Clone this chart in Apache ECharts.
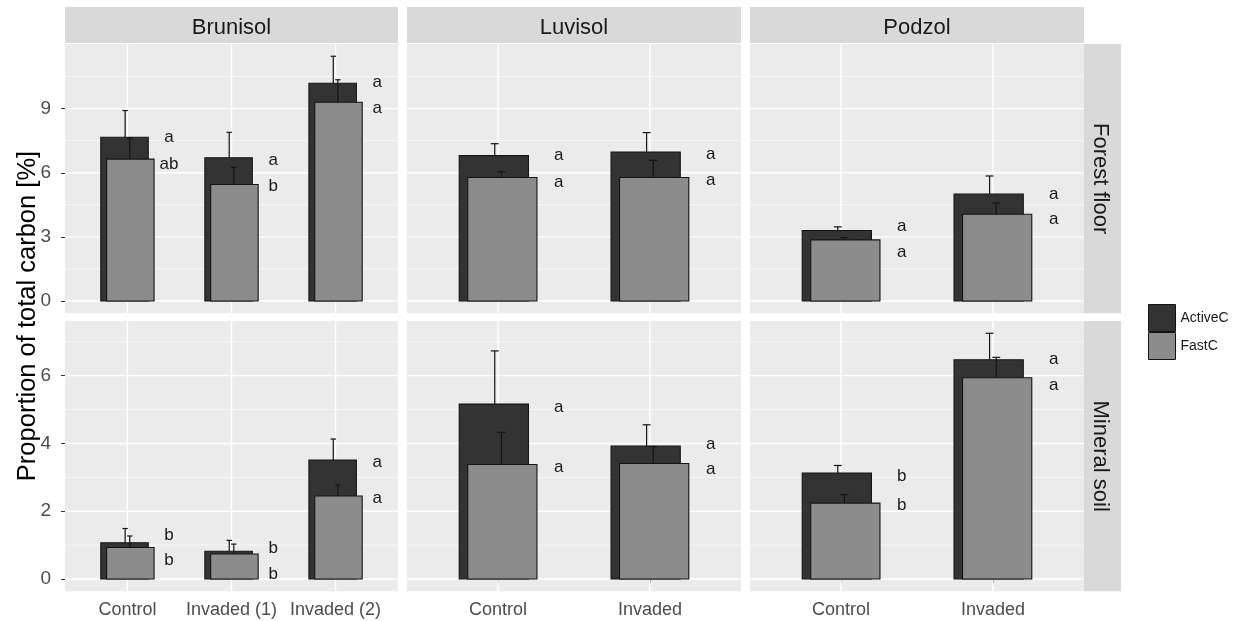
<!DOCTYPE html>
<html>
<head>
<meta charset="utf-8">
<script src="https://cdn.jsdelivr.net/npm/echarts@6/dist/echarts.min.js"></script>
<style>
  html, body { margin: 0; padding: 0; background: #ffffff; }
  #chart { width: 1240px; height: 621px; }
</style>
</head>
<body>
<div id="chart"></div>
<script>
// Facets
const soils = ['Brunisol', 'Luvisol', 'Podzol'];
const layers = ['Forest floor', 'Mineral soil'];
const treatments = [
  ['Control', 'Invaded (1)', 'Invaded (2)'],
  ['Control', 'Invaded'],
  ['Control', 'Invaded']
];

// Forest floor: means and upper error limits (mean + SE), per soil
const forestActive      = [[7.66, 6.70, 10.19], [6.80, 6.97], [3.30, 5.00]];
const forestActiveUpper = [[8.91, 7.89, 11.45], [7.36, 7.88], [3.47, 5.85]];
const forestFast        = [[6.64, 5.45, 9.30], [5.78, 5.78], [2.86, 4.06]];
const forestFastUpper   = [[7.61, 6.25, 10.35], [6.05, 6.58], [2.97, 4.59]];

// Mineral soil
const mineralActive      = [[1.07, 0.82, 3.51], [5.16, 3.92], [3.13, 6.47]];
const mineralActiveUpper = [[1.49, 1.14, 4.13], [6.73, 4.55], [3.35, 7.25]];
const mineralFast        = [[0.93, 0.74, 2.45], [3.38, 3.41], [2.24, 5.94]];
const mineralFastUpper   = [[1.27, 1.03, 2.77], [4.33, 3.91], [2.49, 6.54]];

// Significance letters and the heights they sit at
const forestActiveLetters  = [['a', 'a', 'a'], ['a', 'a'], ['a', 'a']];
const forestFastLetters    = [['ab', 'b', 'a'], ['a', 'a'], ['a', 'a']];
const mineralActiveLetters = [['b', 'b', 'a'], ['a', 'a'], ['b', 'a']];
const mineralFastLetters   = [['b', 'b', 'a'], ['a', 'a'], ['b', 'a']];
const forestActiveLetterY  = [[7.64, 6.58, 10.25], [6.80, 6.84], [3.48, 5.00]];
const forestFastLetterY    = [[6.38, 5.36, 9.00], [5.55, 5.67], [2.28, 3.80]];
const mineralActiveLetterY = [[1.29, 0.92, 3.43], [5.08, 3.98], [3.04, 6.49]];
const mineralFastLetterY   = [[0.55, 0.13, 2.37], [3.30, 3.23], [2.17, 5.72]];

// Axis breaks per row
const forestBreaks = [0, 3, 6, 9];
const forestMinorBreaks = [1.5, 4.5, 7.5, 10.5];
const mineralBreaks = [0, 2, 4, 6];
const mineralMinorBreaks = [1, 3, 5, 7];

// ---- drawing ----
const FONT = '"Liberation Sans", Arial, sans-serif';
const ACTIVE_FILL = '#333333';
const FAST_FILL = '#8C8C8C';
const OUTLINE = '#141414';

const colLeft = [65, 407, 750];
const colWidth = [333, 334, 334];
const rowTop = [44, 321];
const rowHeight = [269.3, 270.3];

const BAR_HALF = 0.228;
const BAR_SHIFT = 0.028;
const ERR_SHIFT = 0.022;
const CAP_HALF = 0.026;
const LETTER_SHIFT = 0.4;

const rows = [
  { active: forestActive, activeUp: forestActiveUpper, fast: forestFast, fastUp: forestFastUpper,
    aLet: forestActiveLetters, fLet: forestFastLetters, aLetY: forestActiveLetterY, fLetY: forestFastLetterY,
    breaks: forestBreaks, minor: forestMinorBreaks },
  { active: mineralActive, activeUp: mineralActiveUpper, fast: mineralFast, fastUp: mineralFastUpper,
    aLet: mineralActiveLetters, fLet: mineralFastLetters, aLetY: mineralActiveLetterY, fLetY: mineralFastLetterY,
    breaks: mineralBreaks, minor: mineralMinorBreaks }
];

const grids = [], xAxes = [], yAxes = [], series = [];

function barSeries(idx, name, values, fill, shift) {
  return {
    type: 'custom', name, xAxisIndex: idx, yAxisIndex: idx, z: 3, silent: true,
    itemStyle: { color: fill },
    data: values.map((v, i) => [i + 1, v]),
    renderItem(params, api) {
      const x = api.value(0), y = api.value(1);
      const a = api.coord([x + shift - BAR_HALF, 0]);
      const b = api.coord([x + shift + BAR_HALF, y]);
      return {
        type: 'rect',
        shape: { x: a[0], y: b[1], width: b[0] - a[0], height: a[1] - b[1] },
        style: { fill, stroke: OUTLINE, lineWidth: 1.1 }
      };
    }
  };
}

function errorSeries(idx, means, uppers, shift) {
  return {
    type: 'custom', xAxisIndex: idx, yAxisIndex: idx, z: 4, silent: true,
    data: means.map((m, i) => [i + 1, m, uppers[i]]),
    renderItem(params, api) {
      const x = api.value(0) + shift;
      const lo = api.coord([x, api.value(1)]);
      const hi = api.coord([x, api.value(2)]);
      const cl = api.coord([x - CAP_HALF, api.value(2)]);
      const cr = api.coord([x + CAP_HALF, api.value(2)]);
      const st = { stroke: OUTLINE, lineWidth: 1.2 };
      return {
        type: 'group',
        children: [
          { type: 'line', shape: { x1: lo[0], y1: lo[1], x2: hi[0], y2: hi[1] }, style: st },
          { type: 'line', shape: { x1: cl[0], y1: cl[1], x2: cr[0], y2: cr[1] }, style: st }
        ]
      };
    }
  };
}

function letterSeries(idx, letters, ys) {
  return {
    type: 'custom', xAxisIndex: idx, yAxisIndex: idx, z: 4, silent: true,
    data: ys.map((y, i) => [i + 1, y]),
    renderItem(params, api) {
      const p = api.coord([api.value(0) + LETTER_SHIFT, api.value(1)]);
      return {
        type: 'text', x: p[0], y: p[1],
        style: { text: letters[params.dataIndex], fill: '#1A1A1A', font: '17px ' + FONT,
                 align: 'center', verticalAlign: 'middle' }
      };
    }
  };
}

function gridLineSeries(idx, hVals, hWidth, vVals, vWidth) {
  const data = hVals.map(v => [v, 0]).concat(vVals.map(v => [v, 1]));
  return {
    type: 'custom', xAxisIndex: idx, yAxisIndex: idx, z: 1, silent: true,
    data,
    renderItem(params, api) {
      const cs = params.coordSys;
      const v = api.value(0), vertical = api.value(1) === 1;
      if (vertical) {
        const x = api.coord([v, 0])[0];
        return { type: 'line', shape: { x1: x, y1: cs.y, x2: x, y2: cs.y + cs.height },
                 style: { stroke: '#FFFFFF', lineWidth: vWidth } };
      }
      const y = api.coord([1, v])[1];
      return { type: 'line', shape: { x1: cs.x, y1: y, x2: cs.x + cs.width, y2: y },
               style: { stroke: '#FFFFFF', lineWidth: hWidth } };
    }
  };
}

rows.forEach((row, r) => {
  // y limits follow the data with 5% expansion on both sides
  const top = Math.max(...row.activeUp.flat(), ...row.fastUp.flat());
  const yMin = -0.05 * top, yMax = 1.05 * top;
  soils.forEach((soil, c) => {
    const idx = r * 3 + c;
    const n = treatments[c].length;
    const cats = treatments[c];
    const ticks = cats.map((_, i) => i + 1);
    grids.push({ left: colLeft[c], top: rowTop[r], width: colWidth[c], height: rowHeight[r],
                 show: true, backgroundColor: '#EBEBEB', borderWidth: 0, containLabel: false });
    xAxes.push({
      type: 'value', gridIndex: idx, min: 0.4, max: n + 0.6,
      axisLine: { show: false },
      splitLine: { show: false },
      axisTick: { show: r === 1, customValues: ticks, length: 4, lineStyle: { color: '#333333', width: 1 } },
      axisLabel: { show: r === 1, customValues: ticks, margin: 10, color: '#4D4D4D', fontSize: 18,
                   fontFamily: FONT, formatter: v => cats[Math.round(v) - 1] || '' }
    });
    yAxes.push({
      type: 'value', gridIndex: idx, min: yMin, max: yMax,
      axisLine: { show: false },
      splitLine: { show: false },
      axisTick: { show: c === 0, customValues: row.breaks, length: 4, lineStyle: { color: '#333333', width: 1 } },
      axisLabel: { show: c === 0, customValues: row.breaks, margin: 14, color: '#4D4D4D', fontSize: 19,
                   fontFamily: FONT }
    });
    series.push(gridLineSeries(idx, row.minor, 0.7, [], 0));
    series.push(gridLineSeries(idx, row.breaks, 1.4, ticks, 1.4));
    series.push(barSeries(idx, 'ActiveC', row.active[c], ACTIVE_FILL, -BAR_SHIFT));
    series.push(barSeries(idx, 'FastC', row.fast[c], FAST_FILL, BAR_SHIFT));
    series.push(errorSeries(idx, row.active[c], row.activeUp[c], -ERR_SHIFT));
    series.push(errorSeries(idx, row.fast[c], row.fastUp[c], ERR_SHIFT));
    series.push(letterSeries(idx, row.aLet[c], row.aLetY[c]));
    series.push(letterSeries(idx, row.fLet[c], row.fLetY[c]));
  });
});

// Facet strips and the y-axis title
const graphic = [];
soils.forEach((soil, c) => {
  graphic.push({ type: 'rect', shape: { x: colLeft[c], y: 7, width: colWidth[c], height: 36 },
                 style: { fill: '#D9D9D9' }, silent: true });
  graphic.push({ type: 'text', x: colLeft[c] + colWidth[c] / 2, y: 28,
                 style: { text: soil, font: '22px ' + FONT, fill: '#1A1A1A', align: 'center', verticalAlign: 'middle' },
                 silent: true });
});
layers.forEach((layer, r) => {
  graphic.push({ type: 'rect', shape: { x: 1084, y: rowTop[r], width: 37, height: rowHeight[r] },
                 style: { fill: '#D9D9D9' }, silent: true });
  graphic.push({ type: 'text', x: 1100, y: rowTop[r] + rowHeight[r] / 2, rotation: -Math.PI / 2,
                 style: { text: layer, font: '22px ' + FONT, fill: '#1A1A1A', align: 'center', verticalAlign: 'middle' },
                 silent: true });
});
graphic.push({ type: 'text', x: 28, y: 316, rotation: Math.PI / 2,
               style: { text: 'Proportion of total carbon [%]', font: '25.5px ' + FONT, fill: '#000000',
                        align: 'center', verticalAlign: 'middle' },
               silent: true });

const chart = echarts.init(document.getElementById('chart'), null, { renderer: 'canvas' });
chart.setOption({
  animation: false,
  backgroundColor: '#FFFFFF',
  grid: grids,
  xAxis: xAxes,
  yAxis: yAxes,
  series,
  graphic,
  legend: {
    data: ['ActiveC', 'FastC'],
    orient: 'vertical', left: 1148, top: 304, padding: 0,
    itemWidth: 27, itemHeight: 27, itemGap: 0, icon: 'rect', selectedMode: false,
    itemStyle: { borderColor: OUTLINE, borderWidth: 1 },
    textStyle: { fontSize: 14, color: '#1A1A1A', fontFamily: FONT }
  }
});
</script>
</body>
</html>
